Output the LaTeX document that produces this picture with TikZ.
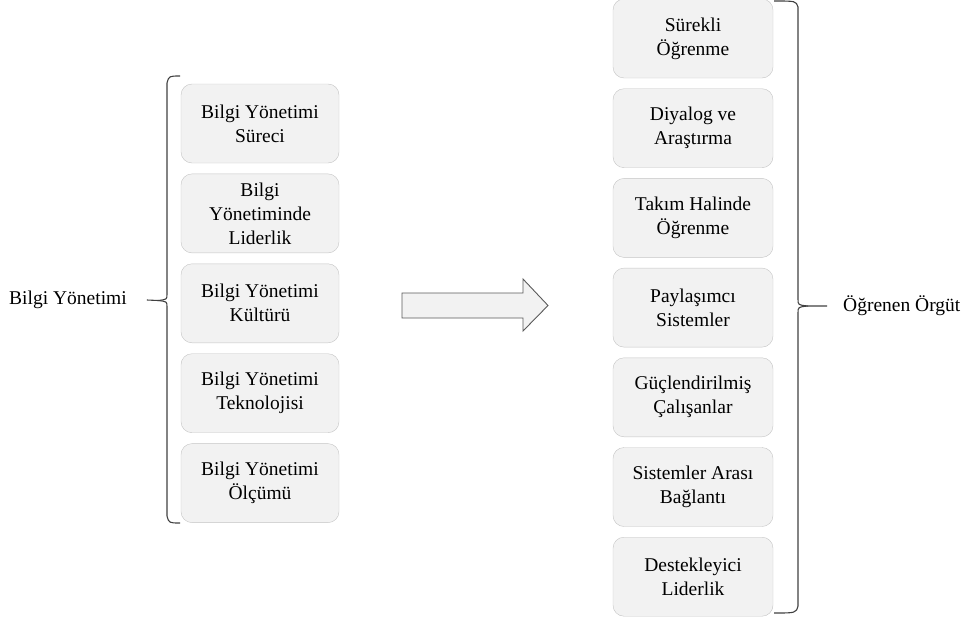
\documentclass[tikz,border=0pt]{standalone}
\usepackage{fontspec}
\setmainfont{Liberation Serif}
\usepackage{xcolor}
\usetikzlibrary{positioning}

\definecolor{boxfill}{HTML}{F2F2F2}
\definecolor{boxline}{HTML}{C4C4C4}
\definecolor{braceline}{HTML}{404040}
\definecolor{arrowline}{HTML}{5A5A5A}

\begin{document}
\begin{tikzpicture}[
  x=1pt, y=-1pt,
  kmbox/.style={draw=boxline, fill=boxfill, rounded corners=11pt, minimum width=158pt, minimum height=79pt, align=center, inner sep=2pt, font=\fontsize{19.5}{24}\selectfont},
  lobox/.style={kmbox, minimum width=160pt},
  sidelabel/.style={font=\fontsize{19.5}{24}\selectfont, inner sep=0pt},
  brace/.style={draw=braceline, line width=1.1pt},
  bigarrow/.style={draw=arrowline, fill=boxfill, line width=0.9pt, line join=miter},
]
\useasboundingbox (0,0) rectangle (965,618);

% left column
\node[kmbox] (km1) at (260,123.5) {Bilgi Yönetimi\\Süreci};
\node[kmbox, below=10.5pt of km1] (km2) {Bilgi\\Yönetiminde\\Liderlik};
\node[kmbox, below=10.5pt of km2] (km3) {Bilgi Yönetimi\\Kültürü};
\node[kmbox, below=10.5pt of km3] (km4) {Bilgi Yönetimi\\Teknolojisi};
\node[kmbox, below=10.5pt of km4] (km5) {Bilgi Yönetimi\\Ölçümü};

% right column
\node[lobox] (lo1) at (693,38.5) {Sürekli\\Öğrenme};
\node[lobox, below=10.3pt of lo1] (lo2) {Diyalog ve\\Araştırma};
\node[lobox, below=10.3pt of lo2] (lo3) {Takım Halinde\\Öğrenme};
\node[lobox, below=10.3pt of lo3] (lo4) {Paylaşımcı\\Sistemler};
\node[lobox, below=10.3pt of lo4] (lo5) {Güçlendirilmiş\\Çalışanlar};
\node[lobox, below=10.3pt of lo5] (lo6) {Sistemler Arası\\Bağlantı};
\node[lobox, below=10.3pt of lo6] (lo7) {Destekleyici\\Liderlik};

% labels
\node[sidelabel, anchor=west] (kmlabel) at (9,300) {Bilgi Yönetimi};
\node[sidelabel, anchor=west] (lolabel) at (843,306) {Öğrenen Örgüt};
\coordinate[right=20pt of kmlabel.east] (kmtip);
\coordinate[left=16pt of lolabel.west] (lotip);

% braces
\draw[brace] (180,76) .. controls (169,76) .. (167,83) -- (167,294)
  .. controls (167,299.5) .. (158,300.5) -- (kmtip);
\draw[brace] (158,300.5) .. controls (167,301.5) .. (167,307) -- (167,516)
  .. controls (169,523) .. (180,523);
\draw[brace] (774,1) .. controls (796,1) .. (798,7) -- (798,299)
  .. controls (798,305) .. (808,306) -- (lotip);
\draw[brace] (808,306) .. controls (798,307) .. (798,313) -- (798,606)
  .. controls (796,613) .. (774,613);

% arrow
\draw[bigarrow] (402,293) -- (523,293) -- (523,279) -- (548,305.5)
  -- (523,331) -- (523,318) -- (402,318) -- cycle;
\end{tikzpicture}
\end{document}
